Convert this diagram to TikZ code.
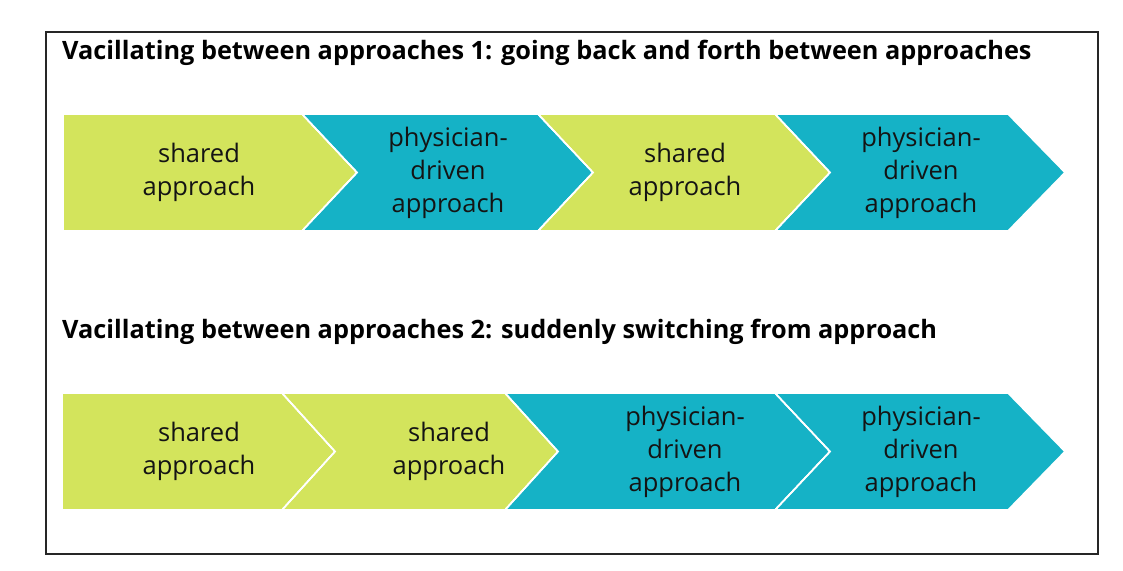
\documentclass[tikz,border=0pt]{standalone}
\usepackage{fontspec}
\setmainfont{Open Sans}
\definecolor{cgreen}{HTML}{D3E45C}
\definecolor{cteal}{HTML}{15B2C6}
\definecolor{ctext}{HTML}{141414}
\tikzset{
  chev/.style={draw=white, line width=1.6pt, line join=miter},
  lbl/.style={align=center, text=ctext, font=\fontsize{25.5}{33}\selectfont, inner sep=0pt},
  ttl/.style={anchor=west, font=\bfseries\fontsize{25.3}{30}\selectfont, inner sep=0pt},
}
\begin{document}
\begin{tikzpicture}[x=1pt,y=-1pt]
\useasboundingbox (0,0) rectangle (1123,570);
\fill[white] (0,0) rectangle (1123,570);
\draw[line width=1.5pt, draw=black!85] (46,32) rectangle (1098,554);
% titles
\node[ttl] (t1) at (62,53) {Vacillating between approaches 1: going back and forth between approaches};
\node[ttl] (t2) at (62,332) {Vacillating between approaches 2: suddenly switching from approach};
% row 1
\def\T{114}\def\B{231}\def\M{172.5}
\fill[chev, fill=cgreen] (63,\T) -- (302,\T) -- (357,\M) -- (302,\B) -- (63,\B) -- cycle;
\fill[chev, fill=cteal] (302,\T) -- (538,\T) -- (593,\M) -- (538,\B) -- (302,\B) -- (357,\M) -- cycle;
\fill[chev, fill=cgreen] (538,\T) -- (775,\T) -- (830,\M) -- (775,\B) -- (538,\B) -- (593,\M) -- cycle;
\fill[chev, fill=cteal] (775,\T) -- (1008,\T) -- (1065,\M) -- (1008,\B) -- (775,\B) -- (830,\M) -- cycle;
\draw[chev] (302,\T) -- (357,\M) -- (302,\B);
\draw[chev] (538,\T) -- (593,\M) -- (538,\B);
\draw[chev] (775,\T) -- (830,\M) -- (775,\B);
\node[lbl] (a1) at (199,\M) {shared\\approach};
\node[lbl] (a2) at (448,\M) {physician-\\driven\\approach};
\node[lbl] (a3) at (685,\M) {shared\\approach};
\node[lbl] (a4) at (921,\M) {physician-\\driven\\approach};
% row 2
\def\T{393}\def\B{510}\def\M{451.5}
\fill[chev, fill=cgreen] (62,\T) -- (282,\T) -- (335,\M) -- (282,\B) -- (62,\B) -- cycle;
\fill[chev, fill=cgreen] (282,\T) -- (505,\T) -- (558,\M) -- (505,\B) -- (282,\B) -- (335,\M) -- cycle;
\fill[chev, fill=cteal] (505,\T) -- (775,\T) -- (830,\M) -- (775,\B) -- (505,\B) -- (558,\M) -- cycle;
\fill[chev, fill=cteal] (775,\T) -- (1008,\T) -- (1065,\M) -- (1008,\B) -- (775,\B) -- (830,\M) -- cycle;
\draw[chev] (282,\T) -- (335,\M) -- (282,\B);
\draw[chev] (505,\T) -- (558,\M) -- (505,\B);
\draw[chev] (775,\T) -- (830,\M) -- (775,\B);
\node[lbl] (b1) at (199,\M) {shared\\approach};
\node[lbl] (b2) at (449,\M) {shared\\approach};
\node[lbl] (b3) at (685,\M) {physician-\\driven\\approach};
\node[lbl] (b4) at (921,\M) {physician-\\driven\\approach};
\end{tikzpicture}
\end{document}
